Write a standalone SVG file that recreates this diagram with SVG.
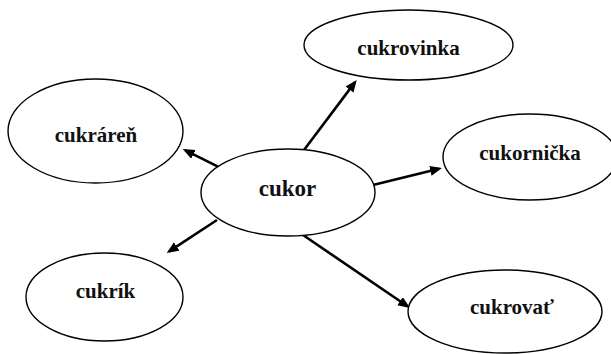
<svg xmlns="http://www.w3.org/2000/svg" width="611" height="354" viewBox="0 0 611 354">
<style>
.n ellipse{fill:#fff;stroke:#000;stroke-width:1.4}
.n text{font-family:"Liberation Serif","Times New Roman",serif;font-weight:bold;font-size:21px;fill:#111;text-anchor:middle}
#cukor text{font-size:23px}
.e line{stroke:#000;stroke-width:2.6;marker-end:url(#ah)}
</style>
<defs>
<marker id="ah" markerUnits="userSpaceOnUse" markerWidth="13" markerHeight="11" refX="9" refY="5" orient="auto">
<path d="M0,0 L12,5 L0,10 z" fill="#000"/>
</marker>
</defs>
<rect width="611" height="354" fill="#fff"/>
<g id="connectors" class="e">
<line x1="304" y1="150" x2="354.9" y2="82.4"/>
<line x1="218" y1="166.7" x2="185.4" y2="150.3"/>
<line x1="373" y1="185" x2="439.1" y2="168.7"/>
<line x1="217" y1="220" x2="169.2" y2="251.4"/>
<line x1="303" y1="235" x2="407.5" y2="306.3"/>
</g>
<g id="cukrovinka" class="n"><ellipse cx="408.5" cy="45" rx="104.5" ry="35"/><text x="408.5" y="55">cukrovinka</text></g>
<g id="cukraren" class="n"><ellipse cx="95.5" cy="131" rx="87.5" ry="52"/><text x="96" y="142">cukráreň</text></g>
<g id="cukor" class="n"><ellipse cx="288" cy="192.5" rx="87" ry="43.5"/><text x="287.5" y="196">cukor</text></g>
<g id="cukornicka" class="n"><ellipse cx="530" cy="157" rx="87" ry="43"/><text x="530" y="160">cukornička</text></g>
<g id="cukrik" class="n"><ellipse cx="104.5" cy="297" rx="78.5" ry="44"/><text x="105.5" y="298">cukrík</text></g>
<g id="cukrovat" class="n"><ellipse cx="505" cy="311.5" rx="97" ry="41.5"/><text x="512" y="314">cukrovať</text></g>
</svg>
